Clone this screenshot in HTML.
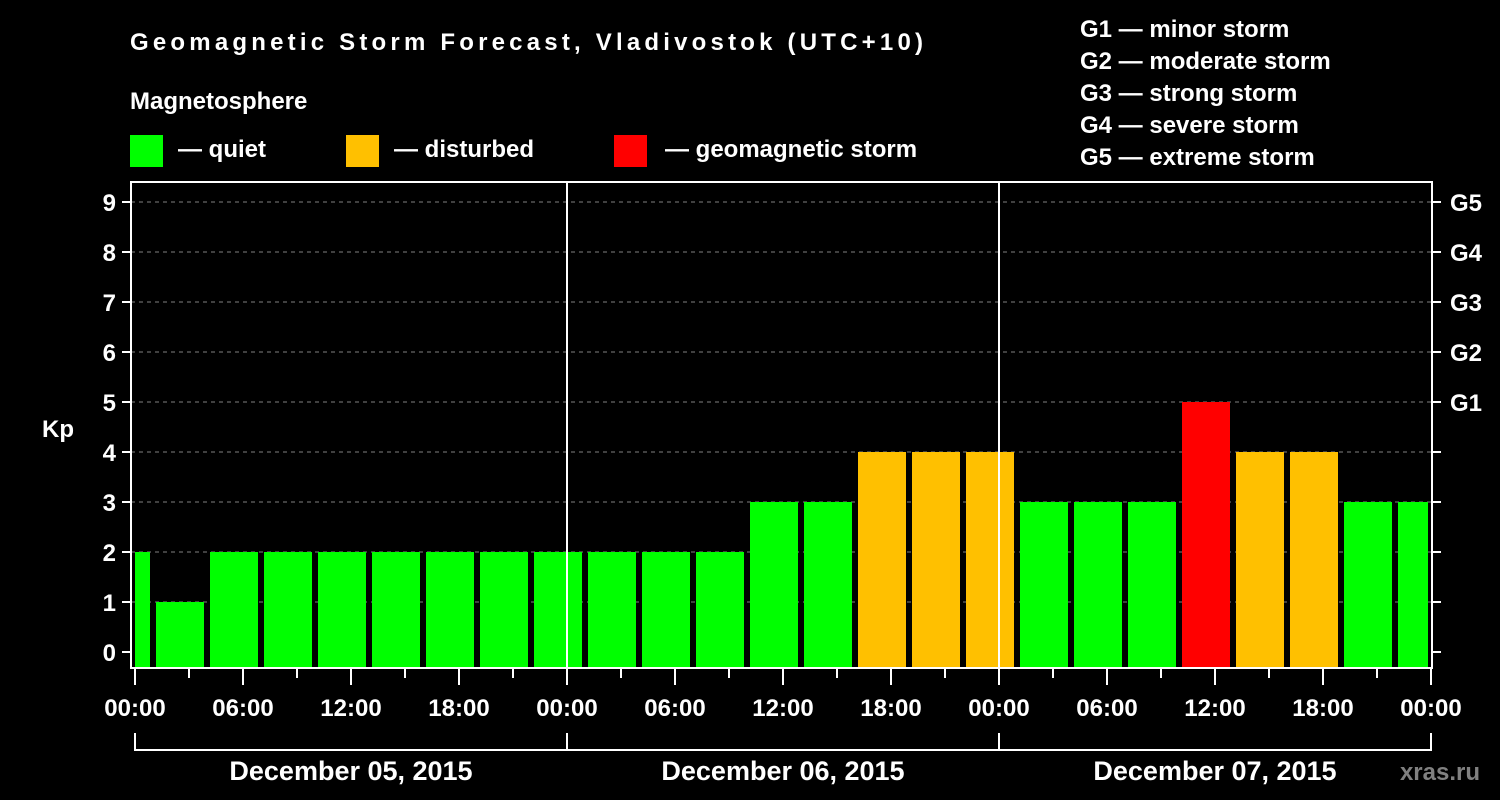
<!DOCTYPE html>
<html><head><meta charset="utf-8"><style>
html,body{margin:0;padding:0;background:#000;}
svg{display:block;font-family:"Liberation Sans",Arial,sans-serif;font-weight:bold;}
</style></head><body>
<svg id="chart" width="1500" height="800" viewBox="0 0 1500 800">
<rect x="0" y="0" width="1500" height="800" fill="#000"/>
<text x="130" y="50" fill="#fff" font-size="24" textLength="793">Geomagnetic Storm Forecast, Vladivostok (UTC+10)</text>
<text x="130" y="109" fill="#fff" font-size="24">Magnetosphere</text>
<g>
<rect x="130" y="135" width="33" height="32" fill="#00ff00"/>
<text x="178" y="157" fill="#fff" font-size="24">— quiet</text>
<rect x="346" y="135" width="33" height="32" fill="#ffc000"/>
<text x="394" y="157" fill="#fff" font-size="24">— disturbed</text>
<rect x="614" y="135" width="33" height="32" fill="#ff0000"/>
<text x="665" y="157" fill="#fff" font-size="24">— geomagnetic storm</text>
</g>
<g fill="#fff" font-size="24">
<text x="1080" y="37">G1 — minor storm</text>
<text x="1080" y="69">G2 — moderate storm</text>
<text x="1080" y="101">G3 — strong storm</text>
<text x="1080" y="133">G4 — severe storm</text>
<text x="1080" y="165">G5 — extreme storm</text>
</g>
<text x="42" y="437" fill="#fff" font-size="24">Kp</text>
<text x="1480" y="780" fill="#808080" font-size="24" text-anchor="end">xras.ru</text>
<g id="grid"></g>
<g id="bars"></g>
<g id="axes"></g>
</svg>
<script>
const kpValues = [2,1,2,2,2,2,2,2,2,2,2,2,3,3,4,4,4,3,3,3,5,4,4,3,3];
const yTicks = [0,1,2,3,4,5,6,7,8,9];
const gLabels = ["G1","G2","G3","G4","G5"];
const xTickLabels = ["00:00","06:00","12:00","18:00","00:00","06:00","12:00","18:00","00:00","06:00","12:00","18:00","00:00"];
const dayLabels = ["December 05, 2015","December 06, 2015","December 07, 2015"];
const firstBlockStartHour = -2;
const blockHours = 3;

const NS = "http://www.w3.org/2000/svg";
const plotL = 131, plotR = 1432, plotT = 182, plotB = 668;
const x0 = 135, pxPerHour = 18;
const xScale = h => x0 + h * pxPerHour;
const yScale = v => 652 - v * 50;
function mk(tag, attrs, parent){const e=document.createElementNS(NS,tag);for(const k in attrs)e.setAttribute(k,attrs[k]);parent.appendChild(e);return e;}
const grid=document.getElementById('grid'), bars=document.getElementById('bars'), axes=document.getElementById('axes');

// gridlines
for (let v=1; v<=9; v++){
  const l=mk('line',{x1:plotL,x2:plotR,y1:yScale(v),y2:yScale(v),stroke:'#808080','stroke-width':1,'stroke-dasharray':'4,4'},grid);
  
  
}
// bars
kpValues.forEach((v,i)=>{
  const s = firstBlockStartHour + i*blockHours;
  let a = xScale(s)+3, b = xScale(s+blockHours)-3;
  a = Math.max(a, plotL+4); b = Math.min(b, plotR-4);
  const color = v>=5 ? '#ff0000' : (v>=4 ? '#ffc000' : '#00ff00');
  const r=mk('rect',{x:a,y:yScale(v),width:b-a,height:plotB-yScale(v),fill:color},bars);
  
  
});
// day separators
for (let d=1; d<dayLabels.length; d++){
  const l=mk('line',{x1:xScale(d*24),x2:xScale(d*24),y1:plotT,y2:plotB,stroke:'#fff','stroke-width':2},axes);
  
  
}
// frame
const fr=mk('rect',{x:plotL,y:plotT,width:plotR-plotL,height:plotB-plotT,fill:'none',stroke:'#fff','stroke-width':2},axes);


// y ticks & labels
yTicks.forEach(v=>{
  const y=yScale(v);
  const t1=mk('line',{x1:122,x2:plotL,y1:y,y2:y,stroke:'#fff','stroke-width':2},axes);
  
  
  const t2=mk('line',{x1:plotR,x2:1441,y1:y,y2:y,stroke:'#fff','stroke-width':2},axes);
  
  
  const tx=mk('text',{x:116,y:y+9,fill:'#fff','font-size':24,'text-anchor':'end'},axes);
  tx.textContent=v;
  
  
});
gLabels.forEach((g,i)=>{
  const tx=mk('text',{x:1450,y:yScale(5+i)+9,fill:'#fff','font-size':24},axes);
  tx.textContent=g;
  
  
});
// x ticks
const totalHours = dayLabels.length*24;
for (let h=0; h<=totalHours; h+=3){
  const major = h%6===0;
  const x=xScale(h);
  const t=mk('line',{x1:x,x2:x,y1:plotB,y2:major?685:678,stroke:'#fff','stroke-width':2},axes);
  
  
}
xTickLabels.forEach((lab,i)=>{
  const tx=mk('text',{x:xScale(i*6),y:716,fill:'#fff','font-size':24,'text-anchor':'middle'},axes);
  tx.textContent=lab;
  
  
});
// day brackets
const br=mk('line',{x1:xScale(0),x2:xScale(totalHours),y1:750,y2:750,stroke:'#fff','stroke-width':2},axes);


for (let d=0; d<=dayLabels.length; d++){
  const l=mk('line',{x1:xScale(d*24),x2:xScale(d*24),y1:733,y2:751,stroke:'#fff','stroke-width':2},axes);
  
  
}
dayLabels.forEach((lab,d)=>{
  const tx=mk('text',{x:xScale(d*24+12),y:780,fill:'#fff','font-size':27,'text-anchor':'middle'},axes);
  tx.textContent=lab;
  
  
});
</script>
</body></html>
